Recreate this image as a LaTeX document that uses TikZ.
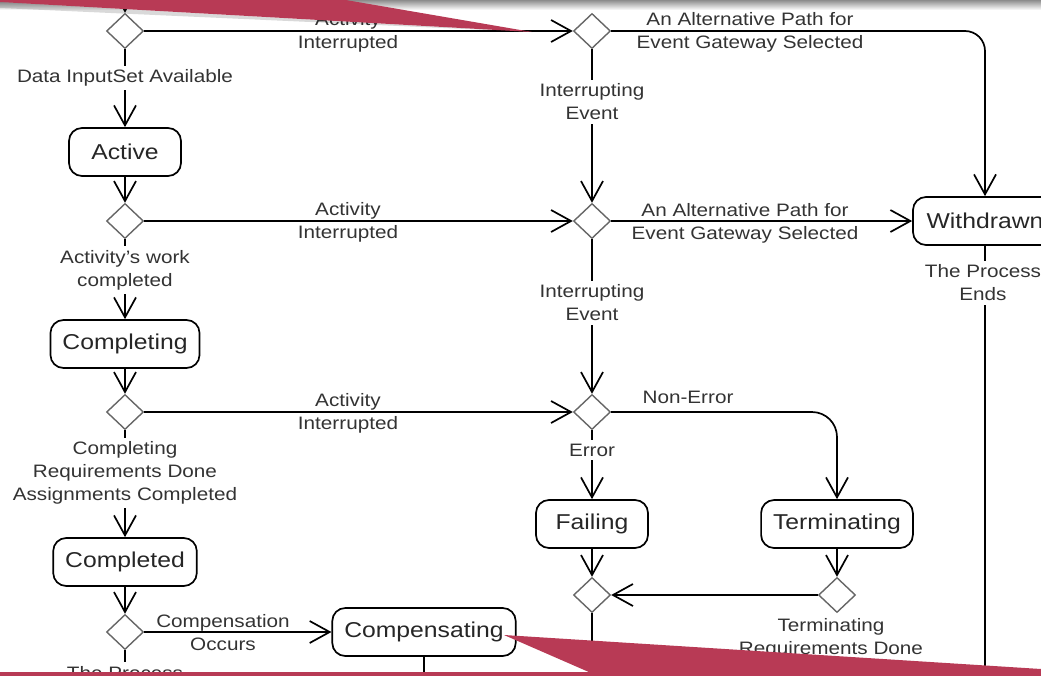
\documentclass[tikz,border=0pt]{standalone}
\usepackage{fontspec}
\setmainfont{Liberation Sans}[FakeStretch=1.15]
\usetikzlibrary{shapes.geometric,arrows.meta}
\definecolor{wedgered}{HTML}{B83A55}

\begin{document}
\begin{tikzpicture}[x=1pt,y=-1pt,
    state/.style={draw,line width=1.7pt,rounded corners=13pt,minimum width=112pt,minimum height=48pt,inner xsep=12pt,text=black!85,font=\fontsize{21.5}{26}\selectfont},
    gate/.style={diamond,draw=black!60,line width=1.4pt,minimum width=37pt,minimum height=35pt,inner sep=0pt,fill=white},
    lbl/.style={align=center,text=black!80,inner sep=4pt,font=\fontsize{18}{23}\selectfont},
    cut/.style={lbl,fill=white},
    wire/.style={line width=1.7pt},
    flow/.style={wire,-{Straight Barb[length=20pt,width=22pt]}}]
    \useasboundingbox (0,0) rectangle (1041,675);
    \shade[top color=black!45,bottom color=white] (0,0) rectangle (1041,10);

    % gateways
    \node[gate] (d0) at (125,31) {};
    \node[gate] (d1) at (125,221) {};
    \node[gate] (d2) at (125,412) {};
    \node[gate] (d3) at (125,632) {};
    \node[gate] (m0) at (592,31) {};
    \node[gate] (m1) at (592,221) {};
    \node[gate] (m2) at (592,412) {};
    \node[gate] (m3) at (592,595) {};
    \node[gate] (t0) at (837,595) {};

    % states
    \node[state] (active) at (125,152) {Active};
    \node[state] (completing) at (125,344) {Completing};
    \node[state] (completed) at (125,562) {Completed};
    \node[state] (compensating) at (424,632) {Compensating};
    \node[state,minimum width=144pt] (withdrawn) at (985,221) {Withdrawn};
    \node[state] (failing) at (592,524) {Failing};
    \node[state] (terminating) at (837,524) {Terminating};

    \coordinate (in0) at (125,-15);
    \coordinate (out0) at (125,700);
    \coordinate (out1) at (424,700);
    \coordinate (out2) at (592,700);
    \coordinate (out3) at (985,700);

    % flows
    \draw[flow] (in0) -- (d0);
    \draw[flow] (d0) -- (active);
    \draw[flow] (active) -- (d1);
    \draw[flow] (d1) -- (completing);
    \draw[flow] (completing) -- (d2);
    \draw[flow] (d2) -- (completed);
    \draw[flow] (completed) -- (d3);
    \draw[flow] (d3) -- (compensating);
    \draw[wire] (d3) -- (out0);
    \draw[wire] (compensating) -- (out1);
    \draw[flow] (d0) -- (m0);
    \draw[flow] (d1) -- (m1);
    \draw[flow] (d2) -- (m2);
    \draw[flow,rounded corners=20pt] (m0.east) -| (withdrawn.north);
    \draw[flow] (m0) -- (m1);
    \draw[flow] (m1) -- (withdrawn);
    \draw[wire] (withdrawn) -- (out3);
    \draw[flow] (m1) -- (m2);
    \draw[flow,rounded corners=25pt] (m2.east) -| (terminating.north);
    \draw[flow] (m2) -- (failing);
    \draw[flow] (failing) -- (m3);
    \draw[flow] (terminating) -- (t0);
    \draw[flow] (t0) -- (m3);
    \draw[wire] (m3) -- (out2);

    % labels
    \node[cut] (avail) at (125,78) {Data InputSet Available};
    \node[cut] (workdone) at (125,270) {Activity’s work\\completed};
    \node[cut] (reqdone) at (125,473) {Completing\\Requirements Done\\Assignments Completed};
    \node[cut,anchor=north] (ends0) at (125,662) {The Process};
    \node[lbl] (intr0) at (348,32) {Activity\\Interrupted};
    \node[lbl] (intr1) at (348,222) {Activity\\Interrupted};
    \node[lbl] (intr2) at (348,413) {Activity\\Interrupted};
    \node[lbl] (comp) at (223,633) {Compensation\\Occurs};
    \node[lbl] (alt0) at (750,32) {An Alternative Path for\\Event Gateway Selected};
    \node[lbl] (alt1) at (745,223) {An Alternative Path for\\Event Gateway Selected};
    \node[cut] (ev0) at (592,102) {Interrupting\\Event};
    \node[cut] (ev1) at (592,303) {Interrupting\\Event};
    \node[cut] (ends1) at (983,283) {The Process\\Ends};
    \node[lbl] (nonerr) at (688,397) {Non-Error};
    \node[cut] (err) at (592,450) {Error};
    \node[lbl] (termdone) at (831,638) {Terminating\\Requirements Done};

    % red wedges
    \fill[black,opacity=.15] (0,2) -- (532,32) -- (0,8) -- cycle;
    \fill[wedgered] (0,-1) -- (340,-1) -- (532,32) -- (0,2) -- cycle;
    \fill[wedgered] (0,672) rectangle (1041,676);
    \fill[wedgered] (504,635) -- (1041,669) -- (1041,676) -- (598,676) -- cycle;
\end{tikzpicture}
\end{document}
